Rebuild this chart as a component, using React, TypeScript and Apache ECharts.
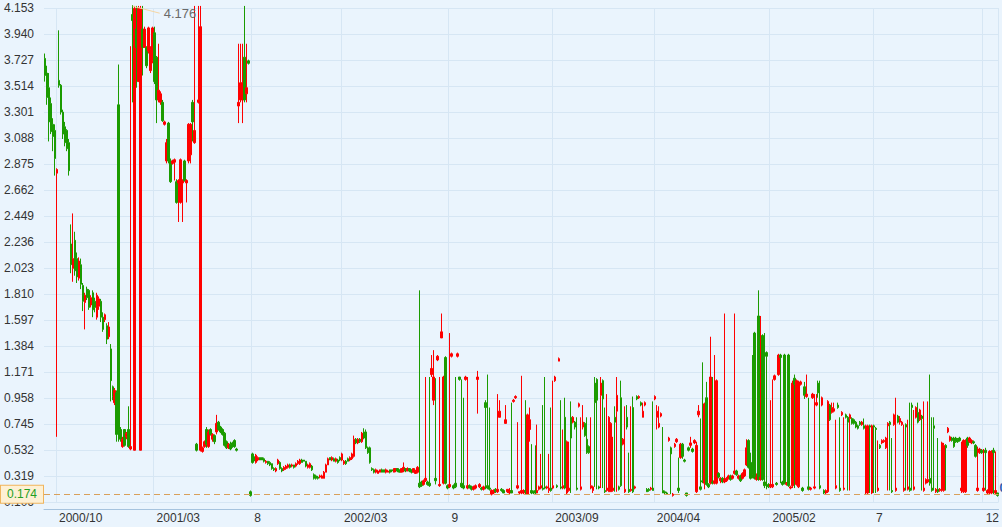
import React, { useEffect, useRef } from "react";
import * as echarts from "echarts";

// [open, close, low, high] per trading slot (left to right)
const segA = [
  [3.74,3.60,3.55,3.78],[3.62,3.42,3.36,3.68],[3.50,3.22,3.06,3.62],[3.37,3.14,3.12,3.42],
  [3.20,3.10,2.98,3.25],[3.15,2.92,2.78,3.20],[2.80,2.83,0.64,2.84],[3.56,3.52,3.50,3.97],
  [3.52,3.30,3.28,3.53],[3.30,3.12,3.08,3.32],[3.18,3.05,3.02,3.22],[3.15,3.00,2.98,3.16],
  [3.05,2.82,2.78,3.08],
];
const segB = [
  [2.22,2.05,1.98,2.38],[2.02,2.10,1.91,2.47],[2.25,2.00,1.96,2.32],[2.10,1.95,1.90,2.15],
  [1.94,2.08,1.92,2.11],[2.05,1.89,1.85,2.10],[1.88,1.75,1.67,1.90],[1.74,1.80,1.52,1.82],
  [1.85,1.78,1.76,1.87],[1.84,1.70,1.68,1.85],[1.72,1.78,1.70,1.80],[1.82,1.68,1.62,1.84],
  [1.75,1.70,1.66,1.78],[1.62,1.80,1.60,1.82],[1.71,1.77,1.68,1.79],[1.75,1.62,1.58,1.77],
  [1.62,1.52,1.50,1.66],[1.60,1.64,1.58,1.65],[1.55,1.44,1.40,1.57],[1.46,1.54,1.44,1.58],
  [1.36,1.10,0.93,1.40],[1.05,0.97,0.94,1.06],[0.92,1.02,0.90,1.04],
];
const segC = [
  [1.00,0.66,0.60,1.02],[3.36,0.70,0.60,3.69],[0.70,0.62,0.60,0.72],[0.56,0.62,0.55,0.64],
  [0.70,0.57,0.56,0.70],[0.64,0.67,0.62,0.68],[0.70,0.56,0.55,0.89],[0.54,0.56,0.53,3.84],
  [4.10,4.05,3.38,4.176],[0.53,4.15,0.53,4.17],[3.98,3.83,3.50,4.17],[3.55,4.15,3.55,4.17],
  [0.53,4.15,0.53,4.17],[3.98,3.83,3.60,4.17],[3.83,3.98,3.83,4.00],[3.83,3.68,3.66,3.84],
  [3.80,3.99,3.78,4.00],
];
const segD = [
  [3.64,3.81,3.62,3.84],[3.72,3.99,3.70,4.00],[3.95,3.55,3.53,4.00],[3.75,3.40,3.21,3.76],
  [3.40,3.48,3.38,3.86],[3.38,3.45,3.36,3.47],[3.38,3.23,3.22,3.40],[3.20,3.22,3.19,3.23],
  [2.90,3.05,2.88,3.08],[3.21,2.90,2.88,3.22],[2.90,2.73,2.72,2.92],[2.88,2.90,2.87,2.91],
  [2.89,2.91,2.74,2.92],[2.73,2.56,2.55,2.75],[2.72,2.74,2.40,2.75],[2.56,2.91,2.55,2.92],
  [2.72,2.74,2.40,2.75],[2.90,2.74,2.73,2.91],[2.72,2.74,2.56,2.75],[2.90,3.20,2.88,3.21],
  [2.95,3.20,2.88,3.21],[3.38,3.22,3.06,3.40],[3.05,3.15,3.04,4.17],[0.58,0.53,0.52,0.59],
  [3.38,3.40,3.37,4.17],[0.53,4.00,0.52,4.17],[0.52,0.55,0.51,0.56],[0.56,0.60,0.55,0.61],
  [0.70,0.58,0.55,0.72],[0.56,0.68,0.55,0.70],[0.70,0.66,0.65,0.71],[0.62,0.66,0.60,0.67],
  [0.65,0.60,0.58,0.66],[0.68,0.75,0.66,0.82],[0.76,0.70,0.69,0.77],[0.72,0.68,0.67,0.73],
  [0.70,0.66,0.65,0.71],[0.67,0.57,0.56,0.68],[0.60,0.55,0.54,0.61],[0.55,0.58,0.54,0.59],
  [0.58,0.54,0.53,0.60],[0.59,0.56,0.55,0.60],[0.61,0.56,0.55,0.62],[0.54,0.53,0.52,0.55],
  [3.35,3.38,3.21,3.86],[3.40,3.54,3.38,3.86],[3.40,3.54,3.21,3.86],[3.75,3.40,3.38,4.17],
  [3.45,3.50,3.38,3.86],[3.72,3.70,3.69,3.73],
];
const segE = [
  [0.19,0.16,0.15,0.20],[0.50,0.43,0.42,0.51],[0.47,0.45,0.44,0.48],[0.43,0.49,0.42,0.50],
  [0.45,0.47,0.44,0.48],[0.47,0.45,0.45,0.47],[0.47,0.45,0.45,0.47],[0.46,0.44,0.43,0.47],
  [0.43,0.44,0.42,0.45],[0.44,0.42,0.41,0.44],[0.43,0.41,0.40,0.44],[0.42,0.38,0.37,0.42],
  [0.38,0.37,0.36,0.39],[0.36,0.38,0.35,0.39],[0.42,0.45,0.41,0.46],[0.43,0.38,0.37,0.44],
  [0.38,0.36,0.35,0.39],[0.37,0.39,0.36,0.40],[0.38,0.40,0.37,0.41],[0.39,0.41,0.38,0.42],
  [0.41,0.39,0.38,0.42],[0.40,0.41,0.39,0.42],[0.41,0.39,0.38,0.41],[0.40,0.42,0.39,0.43],
  [0.42,0.44,0.41,0.45],[0.42,0.45,0.41,0.46],[0.45,0.43,0.43,0.46],[0.45,0.44,0.44,0.45],
  [0.44,0.40,0.39,0.44],[0.39,0.41,0.38,0.42],[0.39,0.42,0.38,0.43],[0.40,0.37,0.36,0.41],
  [0.33,0.30,0.29,0.34],[0.32,0.30,0.29,0.33],[0.31,0.30,0.29,0.32],[0.31,0.32,0.30,0.33],
  [0.30,0.32,0.30,0.33],[0.30,0.35,0.30,0.36],[0.35,0.41,0.35,0.42],[0.41,0.46,0.41,0.47],
  [0.47,0.45,0.45,0.47],[0.45,0.47,0.44,0.48],[0.46,0.44,0.44,0.47],[0.44,0.46,0.43,0.47],
  [0.45,0.43,0.42,0.46],[0.47,0.45,0.44,0.48],[0.45,0.50,0.44,0.51],[0.42,0.44,0.41,0.45],
  [0.44,0.42,0.41,0.45],[0.46,0.44,0.44,0.47],[0.45,0.47,0.44,0.48],[0.46,0.50,0.45,0.51],
  [0.48,0.62,0.47,0.65],[0.62,0.59,0.58,0.63],[0.59,0.62,0.58,0.63],[0.62,0.60,0.59,0.63],
  [0.60,0.67,0.59,0.68],[0.68,0.63,0.62,0.71],[0.68,0.55,0.54,0.70],[0.55,0.51,0.50,0.56],
  [0.55,0.43,0.42,0.56],[0.38,0.37,0.36,0.39],[0.37,0.35,0.34,0.38],[0.35,0.37,0.34,0.38],
  [0.34,0.36,0.34,0.37],[0.35,0.37,0.35,0.37],[0.37,0.35,0.35,0.38],[0.37,0.35,0.35,0.37],
  [0.35,0.37,0.34,0.38],[0.35,0.36,0.35,0.37],[0.37,0.35,0.34,0.37],[0.37,0.36,0.35,0.37],
  [0.35,0.38,0.35,0.38],[0.36,0.38,0.35,0.38],[0.38,0.36,0.35,0.38],[0.37,0.35,0.35,0.37],
  [0.35,0.38,0.35,0.38],[0.36,0.39,0.35,0.43],[0.38,0.36,0.35,0.38],[0.36,0.38,0.36,0.39],
  [0.38,0.36,0.35,0.38],[0.37,0.35,0.34,0.37],[0.35,0.38,0.35,0.38],[0.34,0.36,0.34,0.37],
  [0.35,0.39,0.34,0.40],
];
const segF = [
  [0.26,0.23,0.22,1.84],[0.27,0.24,0.23,0.28],[0.25,0.28,0.24,0.29],[0.28,0.30,0.27,1.13],
  [0.27,0.25,0.24,0.28],[0.26,0.24,0.23,1.13],[1.15,1.20,1.13,1.31],[0.94,1.13,0.90,1.35],
  [0.30,0.28,0.25,1.12],[1.27,1.30,1.26,1.31],[0.24,0.25,0.23,1.13],[1.45,1.50,1.45,1.65],
  [0.26,1.13,0.25,1.14],[1.29,0.26,0.25,1.30],[0.24,0.22,0.21,0.25],[0.23,0.25,0.22,1.49],
  [1.30,1.32,1.29,1.33],[0.24,0.22,0.21,0.25],[0.26,0.23,0.22,1.13],[1.30,1.32,1.29,1.33],
  [1.13,1.11,1.10,1.13],[0.26,0.23,0.22,1.11],[0.24,0.22,0.21,0.96],[1.11,1.13,1.10,1.14],
  [0.22,0.24,0.21,1.13],[0.24,0.22,0.22,0.25],[0.23,0.21,0.20,0.24],[0.21,0.23,0.20,0.24],
  [0.22,0.24,0.21,0.25],[1.11,1.13,0.83,1.18],[0.23,0.25,0.22,0.26],[0.22,0.21,0.20,0.23],
  [0.21,0.23,0.20,0.24],[0.92,0.88,0.21,0.94],[0.24,0.22,0.21,1.15],[0.22,0.21,0.20,0.88],
  [0.17,0.20,0.16,0.21],[0.18,0.20,0.17,0.21],[0.21,0.19,0.18,0.22],[0.19,0.21,0.18,0.99],
  [0.80,0.85,0.80,0.94],[0.21,0.20,0.19,0.22],[0.20,0.18,0.18,0.21],[0.75,0.78,0.75,0.90],
  [0.19,0.21,0.18,0.21],[0.18,0.20,0.17,0.22],[0.20,0.18,0.18,0.92],[0.93,0.94,0.92,0.95],
  [0.96,0.97,0.95,0.98],[0.22,0.24,0.21,0.76],[0.18,0.19,0.17,0.19],[0.18,0.20,0.17,1.14],
  [0.18,0.20,0.17,0.21],[0.20,0.19,0.17,0.94],[0.17,0.82,0.17,0.83],[0.70,0.78,0.60,0.88],
  [0.20,0.18,0.17,0.58],[0.19,0.18,0.17,0.20],[0.20,0.18,0.17,0.57],[0.18,0.20,0.18,0.74],
  [0.21,0.23,0.20,0.24],[0.22,0.24,0.21,0.50],[0.22,0.21,0.20,0.90],[0.23,0.22,0.21,1.13],
  [0.22,0.23,0.21,0.24],[0.20,0.22,0.18,0.50],[0.22,0.20,0.19,0.88],[0.22,0.24,0.21,1.10],
  [1.10,1.13,1.09,1.14],[0.24,0.23,0.22,0.25],
];
const segG = [
  [1.26,1.28,1.26,1.29],[0.23,0.22,0.21,0.94],[0.22,0.24,0.21,0.70],[0.80,0.22,0.21,0.96],
  [0.18,0.60,0.17,0.61],[0.20,0.22,0.19,0.60],[0.80,0.63,0.18,0.93],[0.76,0.80,0.75,0.81],
  [0.76,0.72,0.70,0.77],[0.22,0.21,0.20,0.80],[0.89,0.91,0.88,0.92],[0.21,0.23,0.20,0.80],
  [0.72,0.76,0.70,0.90],[0.75,0.65,0.64,0.76],[0.62,0.51,0.50,0.80],[0.56,0.51,0.50,0.57],
  [0.22,0.24,0.21,0.80],[0.20,0.23,0.18,0.24],[1.08,0.92,0.23,1.13],[1.11,0.94,0.21,1.12],
  [0.23,0.22,0.21,0.24],[0.98,1.08,0.22,1.13],[1.10,0.95,0.22,1.11],[0.20,0.19,0.18,0.88],
  [0.20,0.22,0.19,0.99],[0.19,0.80,0.19,0.81],[0.19,0.75,0.19,0.76],[0.20,0.22,0.19,0.64],
  [0.80,0.76,0.19,0.89],[0.85,0.98,0.19,1.13],[0.23,0.21,0.20,0.24],[0.96,0.24,0.23,1.10],
  [0.58,0.62,0.57,0.63],[0.19,0.21,0.18,0.89],[0.80,0.72,0.70,0.90],[0.21,0.19,0.18,0.51],
  [0.20,0.21,0.19,0.89],[0.88,0.19,0.18,0.97],[0.22,0.23,0.21,0.24],[0.97,0.95,0.94,0.98],
  [0.96,0.97,0.95,0.98],[0.92,0.90,0.89,0.93],[0.80,0.85,0.80,0.92],[0.90,0.92,0.89,0.93],
  [0.21,0.19,0.19,0.22],[0.21,0.20,0.19,0.22],[0.21,0.22,0.20,0.23],[0.22,0.20,0.20,0.93],
  [0.95,0.97,0.94,0.98],[0.80,0.85,0.70,0.90],[0.72,0.75,0.71,0.89],[0.81,0.83,0.80,0.84],
  [0.20,0.18,0.18,0.72],[0.19,0.18,0.17,0.20],[0.18,0.17,0.17,0.19],[0.61,0.63,0.60,0.64],
  [0.55,0.50,0.17,0.56],[0.16,0.17,0.15,0.18],[0.56,0.58,0.55,0.59],[0.60,0.62,0.59,0.63],
];
const segH = [
  [0.22,0.20,0.18,0.47],[0.47,0.58,0.46,0.59],[0.58,0.48,0.46,0.59],[0.45,0.44,0.43,0.46],
  [0.18,0.16,0.15,0.18],[0.55,0.53,0.52,0.56],[0.57,0.59,0.55,0.64],[0.54,0.52,0.51,0.55],
  [0.59,0.61,0.58,0.62],[0.19,0.57,0.18,0.60],[0.82,0.85,0.80,0.90],[0.23,0.21,0.20,0.79],
  [0.28,0.27,0.26,1.25],[0.26,0.91,0.21,0.92],[0.96,0.25,0.24,1.09],[0.25,0.23,0.22,0.26],
  [0.26,1.13,0.25,1.46],[0.27,0.26,0.25,1.13],[0.26,0.28,0.25,1.31],[0.26,1.10,0.25,1.11],
  [0.34,0.31,0.30,0.35],[0.28,0.30,0.26,0.31],[0.30,0.27,0.26,0.31],[0.27,0.29,0.26,1.65],
  [0.28,0.30,0.27,0.31],[0.30,0.32,0.29,0.33],[0.32,0.29,0.28,0.33],[0.30,0.32,0.29,0.33],
  [0.34,0.36,0.33,1.65],[0.36,0.33,0.32,0.37],[0.30,0.32,0.29,0.33],[0.32,0.28,0.27,0.33],
  [0.30,0.34,0.29,0.35],[0.32,0.37,0.31,0.38],[0.41,0.55,0.40,0.62],[0.61,0.39,0.38,0.62],
  [0.43,0.30,0.29,0.51],[0.33,0.31,0.30,1.31],[1.49,0.30,0.29,1.50],[0.29,0.31,0.28,0.34],
  [1.63,0.29,0.28,1.84],[0.29,0.31,0.28,1.63],[1.47,0.29,0.28,1.48],[0.27,0.24,0.22,1.49],
  [1.33,1.30,0.21,1.34],[0.25,0.23,0.22,0.26],[0.23,0.25,0.22,0.94],[0.23,0.25,0.22,1.11],
  [1.11,1.14,1.10,1.15],[0.26,0.25,0.24,0.27],[1.15,1.31,1.14,1.32],[1.31,1.29,0.26,1.32],
  [0.27,0.25,0.24,0.28],[1.31,0.26,0.25,1.32],[0.25,0.26,0.24,0.27],[1.31,0.24,0.23,1.32],
  [0.22,0.23,0.21,0.24],[0.24,1.08,0.22,1.10],[1.12,1.07,0.22,1.15],[0.25,1.10,0.24,1.11],
  [0.23,1.08,0.22,1.10],[1.07,1.09,1.06,1.10],[0.22,0.20,0.19,0.23],[1.05,0.98,0.95,1.09],
  [0.97,0.99,0.96,1.15],[0.23,0.21,0.20,0.96],[0.21,0.22,0.20,0.23],[0.96,0.99,0.95,1.00],
  [0.22,0.23,0.21,0.99],[0.90,0.92,0.89,0.99],[1.08,1.00,0.96,1.10],[0.24,0.22,0.21,1.10],
  [0.90,0.96,0.89,0.97],[0.20,0.18,0.17,0.21],[0.18,0.20,0.17,0.21],[0.19,0.93,0.18,0.94],
  [0.90,0.78,0.77,0.91],[0.84,0.88,0.83,0.92],[0.85,0.87,0.84,0.92],[0.22,0.24,0.21,0.78],
];
const segI = [
  [0.90,0.88,0.87,0.92],[0.22,0.20,0.19,0.80],[0.82,0.84,0.81,0.85],[0.21,0.22,0.20,0.80],
  [0.82,0.80,0.79,0.83],
  [0.80,0.76,0.20,0.81],[0.79,0.82,0.20,0.83],[0.79,0.75,0.74,0.80],[0.78,0.75,0.74,0.79],
  [0.76,0.72,0.71,0.77],[0.73,0.71,0.70,0.74],[0.76,0.74,0.73,0.77],[0.74,0.76,0.73,0.77],
  [0.73,0.71,0.70,0.79],[0.18,0.73,0.17,0.74],[0.18,0.73,0.17,0.74],[0.73,0.72,0.18,0.74],
  [0.18,0.73,0.17,0.74],[0.73,0.72,0.18,0.74],[0.71,0.70,0.18,0.72],[0.20,0.22,0.19,0.61],
  [0.57,0.55,0.54,0.58],[0.59,0.61,0.58,0.62],[0.60,0.61,0.59,0.62],[0.55,0.63,0.54,0.64],
  [0.73,0.75,0.20,0.76],[0.76,0.74,0.20,0.77],[0.20,0.19,0.18,0.63],[0.74,0.82,0.73,0.83],
  [0.20,0.22,0.19,0.96],[0.81,0.76,0.75,0.82],[0.76,0.79,0.74,0.81],[0.74,0.76,0.73,0.77],
  [0.20,0.22,0.19,0.74],[0.74,0.72,0.20,0.75],[0.21,0.23,0.20,0.78],[0.22,0.20,0.19,0.92],
  [0.90,0.88,0.20,0.92],[0.21,0.23,0.20,0.86],[0.80,0.88,0.79,0.89],[0.84,0.76,0.75,0.92],
  [0.78,0.86,0.77,0.87],[0.81,0.79,0.20,0.82],[0.20,0.22,0.19,0.93],[0.26,0.29,0.25,0.30],
  [0.27,0.29,0.26,0.93],[0.30,0.26,0.24,1.15],[0.22,0.20,0.19,0.80],[0.73,0.71,0.20,0.80],
  [0.19,0.21,0.18,0.22],[0.21,0.19,0.18,0.63],[0.20,0.21,0.19,0.22],[0.20,0.59,0.19,0.60],
  [0.20,0.57,0.19,0.59],[0.57,0.55,0.20,0.58],[0.68,0.71,0.67,0.72],[0.61,0.64,0.60,0.65],
  [0.63,0.61,0.60,0.64],[0.63,0.56,0.55,0.64],[0.63,0.60,0.59,0.64],[0.62,0.60,0.59,0.63],
  [0.63,0.61,0.60,0.64],[0.20,0.22,0.18,0.60],[0.19,0.61,0.18,0.62],[0.19,0.61,0.18,0.62],
  [0.63,0.57,0.55,0.64],[0.60,0.63,0.59,0.64],[0.59,0.61,0.58,0.62],[0.60,0.59,0.58,0.61],
  [0.57,0.48,0.47,0.58],[0.20,0.22,0.19,0.56],[0.51,0.54,0.50,0.55],[0.53,0.51,0.50,0.54],
  [0.20,0.22,0.19,0.54],[0.53,0.51,0.20,0.55],[0.18,0.20,0.17,0.21],[0.18,0.52,0.17,0.53],
  [0.18,0.52,0.17,0.53],[0.53,0.51,0.17,0.55],[0.18,0.20,0.17,0.52],[0.18,0.16,0.15,0.18],
];

const candles = [...segA, ...segB, ...segC, ...segD, ...segE, ...segF, ...segG, ...segH, ...segI];
const categories = candles.map((_, i) => String(i));

const tickIndex = [6, 55, 104, 149, 203, 255, 306, 364, 416, 471];
const tickLabels = ["2000/10", "2001/03", "8", "2002/03", "9", "2003/09", "2004/04", "2005/02", "7", "12"];

const yMin = 0.106;
const yMax = 4.153;
const yStep = 0.213;
const refPrice = 0.174;

const UP = "#ff0000";
const DOWN = "#1b9b00";
const GRID = "#d6e6f4";
const FONT = "Arial, 'Liberation Sans', sans-serif";

export default function App() {
  const ref = useRef<HTMLDivElement>(null);
  useEffect(() => {
    const chart = echarts.init(ref.current!, null, { renderer: "svg" });
    const highs = candles.map((c) => c[3]);
    const maxHigh = Math.max(...highs);
    const maxIdx = highs.indexOf(maxHigh);
    const isTick = (i: number) => tickIndex.includes(i);
    chart.setOption({
      animation: false,
      backgroundColor: "#eaf4fd",
      textStyle: { fontFamily: FONT },
      grid: { left: 44, right: 0, top: 8, bottom: 25 },
      xAxis: {
        type: "category",
        data: categories,
        offset: 7,
        axisLine: { lineStyle: { color: "#a6c3de", width: 1 } },
        axisTick: {
          alignWithLabel: true,
          interval: (i: number) => isTick(i),
          length: 14,
          lineStyle: { color: "#a6c3de" },
        },
        axisLabel: {
          interval: (i: number) => isTick(i),
          formatter: (_v: string, i: number) => tickLabels[tickIndex.indexOf(i)] ?? "",
          align: "left",
          margin: 3,
          padding: [0, 0, 0, 2],
          color: "#333",
          fontSize: 12,
          fontFamily: FONT,
        },
        splitLine: {
          show: true,
          interval: (i: number) => isTick(i),
          lineStyle: { color: GRID },
        },
      },
      yAxis: {
        type: "value",
        min: yMin,
        max: yMax,
        interval: yStep,
        axisLine: { show: false },
        axisTick: { show: false },
        axisLabel: {
          formatter: (v: number) => v.toFixed(3),
          margin: 10,
          color: "#333",
          fontSize: 12,
          fontFamily: FONT,
        },
        splitLine: { lineStyle: { color: GRID } },
      },
      series: [
        {
          type: "candlestick",
          data: candles,
          barWidth: 2,
          clip: false,
          large: false,
          itemStyle: {
            color: UP,
            color0: DOWN,
            borderColor: UP,
            borderColor0: DOWN,
            borderWidth: 1,
          },
          markLine: {
            silent: true,
            symbol: ["none", "none"],
            z: 10,
            data: [
              {
                yAxis: refPrice,
                lineStyle: { type: [6, 4], color: "#d9a05a", width: 1 },
                label: {
                  show: true,
                  position: "start",
                  distance: 1,
                  formatter: refPrice.toFixed(3),
                  color: "#23a023",
                  fontSize: 12,
                  fontFamily: FONT,
                  backgroundColor: "#fdf0d4",
                  borderColor: "#f0b45c",
                  borderWidth: 1,
                  padding: [3, 6, 2, 6],
                },
              },
            ],
          },
        },
      ],
    });

    // leader line + label for the highest price, positioned through the chart's own scales
    const p0 = chart.convertToPixel({ seriesIndex: 0 }, [maxIdx, maxHigh]) as number[];
    const pLast = chart.convertToPixel({ seriesIndex: 0 }, [candles.length - 1, refPrice]) as number[];
    chart.setOption({
      graphic: [
        {
          type: "line",
          shape: { x1: p0[0], y1: p0[1] + 1, x2: p0[0] + 27, y2: p0[1] + 8 },
          style: { stroke: "#f5d6a3", lineWidth: 1 },
          z: 20,
        },
        {
          type: "text",
          x: p0[0] + 31,
          y: p0[1] + 8,
          style: {
            text: maxHigh.toFixed(3),
            fill: "#6a6a6a",
            font: `13px ${FONT}`,
            verticalAlign: "middle",
            textAlign: "left",
          },
          z: 20,
        },
        {
          type: "text",
          x: pLast[0] + 2,
          y: pLast[1] - 6,
          style: {
            text: refPrice.toFixed(3),
            fill: "#2a5cb0",
            font: `bold 12px ${FONT}`,
            verticalAlign: "middle",
            textAlign: "left",
          },
          z: 20,
        },
      ],
    });
    return () => chart.dispose();
  }, []);
  return (
    <div
      ref={ref}
      style={{ position: "fixed", left: 0, top: 0, width: 1002, height: 527 }}
    />
  );
}
